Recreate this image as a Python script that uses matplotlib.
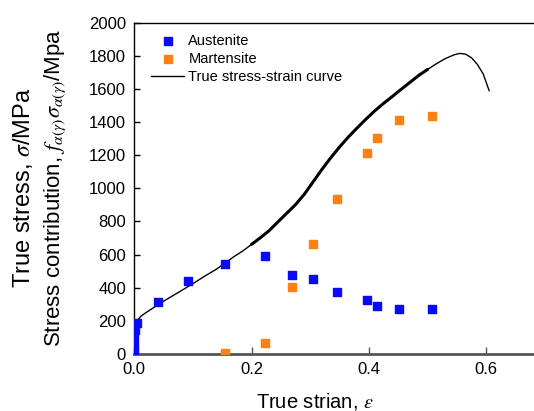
"""True stress-strain curve with austenite / martensite stress contributions."""
import matplotlib
matplotlib.use('Agg')
import matplotlib.pyplot as plt
import numpy as np

plt.rcParams['font.family'] = ['Liberation Sans', 'DejaVu Sans']
plt.rcParams['mathtext.fontset'] = 'stix'

# phase stress contributions
aus_x = [0.0, 0.0, 0.0, 0.001, 0.005, 0.040, 0.091, 0.155, 0.223, 0.269, 0.305,
         0.346, 0.396, 0.413, 0.452, 0.508]
aus_y = [5, 50, 100, 145, 188, 311, 441, 544, 592, 474, 450, 375, 329, 289, 269, 269]
mar_x = [0.155, 0.223, 0.269, 0.305, 0.346, 0.396, 0.413, 0.452, 0.508]
mar_y = [4, 68, 405, 664, 938, 1215, 1307, 1411, 1438]

# true stress-strain curve
curve_x = [0.0, 0.001, 0.002, 0.004, 0.007, 0.012, 0.02, 0.03, 0.04, 0.06, 0.08,
           0.10, 0.12, 0.14, 0.155, 0.17, 0.185, 0.20, 0.215, 0.23, 0.245, 0.26,
           0.275, 0.29, 0.305, 0.32, 0.335, 0.35, 0.365, 0.38, 0.395, 0.41, 0.425,
           0.44, 0.455, 0.47, 0.485, 0.50, 0.515, 0.53, 0.545, 0.555, 0.565, 0.575,
           0.585, 0.595, 0.605]
curve_y = [30, 120, 160, 190, 210, 230, 250, 273, 297, 340, 382, 425, 470, 512,
           550, 588, 622, 662, 702, 745, 798, 850, 902, 965, 1040, 1115, 1185,
           1250, 1310, 1365, 1418, 1468, 1513, 1555, 1598, 1640, 1682, 1718, 1752,
           1783, 1806, 1815, 1810, 1788, 1748, 1690, 1590]

fig = plt.figure(figsize=(5.34, 4.11), dpi=100)
ax = fig.add_axes([0.2515, 0.1387, 0.7485, 0.806])

cx = np.array(curve_x); cy = np.array(curve_y)
ln, = ax.plot(cx, cy, color='black', lw=1.0, label='True stress-strain curve', zorder=3)
m = (cx >= 0.19) & (cx <= 0.50)
ax.plot(cx[m], cy[m], color='black', lw=2.2, solid_capstyle='round', zorder=3)

a = ax.scatter(aus_x, aus_y, marker='s', s=30, color='#0a0af5', label='Austenite', zorder=4)
b = ax.scatter(mar_x, mar_y, marker='s', s=30, color='#ff8010', label='Martensite', zorder=4)

ax.set_xlim(0, 0.6815)
ax.set_ylim(0, 2000)
ax.set_xticks([0.0, 0.2, 0.4, 0.6])
ax.set_xticklabels(['0.0', '0.2', '0.4', '0.6'])
ax.set_yticks(np.arange(0, 2001, 200))
ax.tick_params(direction='in', labelsize=12, length=4, width=1, pad=6)
ax.tick_params(axis='x', colors='#555555', labelcolor='black', length=5)

ax.spines['right'].set_visible(False)
ax.spines['bottom'].set_color('#555555')
ax.spines['bottom'].set_linewidth(2)
ax.spines['left'].set_linewidth(1)
ax.spines['top'].set_linewidth(1)

ax.set_xlabel(r'True strian, $\varepsilon$', fontsize=14.5)
ax.xaxis.set_label_coords(0.4525, -0.112)
ax.xaxis.label.set_va('top')

fig.text(23 / 534, 0.5426, r'True stress, $\sigma$/MPa', rotation=90,
         ha='center', va='center', fontsize=17)
fig.text(55 / 534, 0.5426,
         r'Stress contribution, $f_{\alpha(\gamma)}\sigma_{\alpha(\gamma)}$/Mpa',
         rotation=90, ha='center', va='center', fontsize=16)

ax.legend(handles=[a, b, ln], loc='upper left', bbox_to_anchor=(0.042, 0.965),
          borderaxespad=0, borderpad=0, frameon=False, fontsize=10.5,
          handlelength=2.26, handletextpad=0.3, labelspacing=0.25, scatterpoints=1)

fig.savefig('out.png', dpi=100)
